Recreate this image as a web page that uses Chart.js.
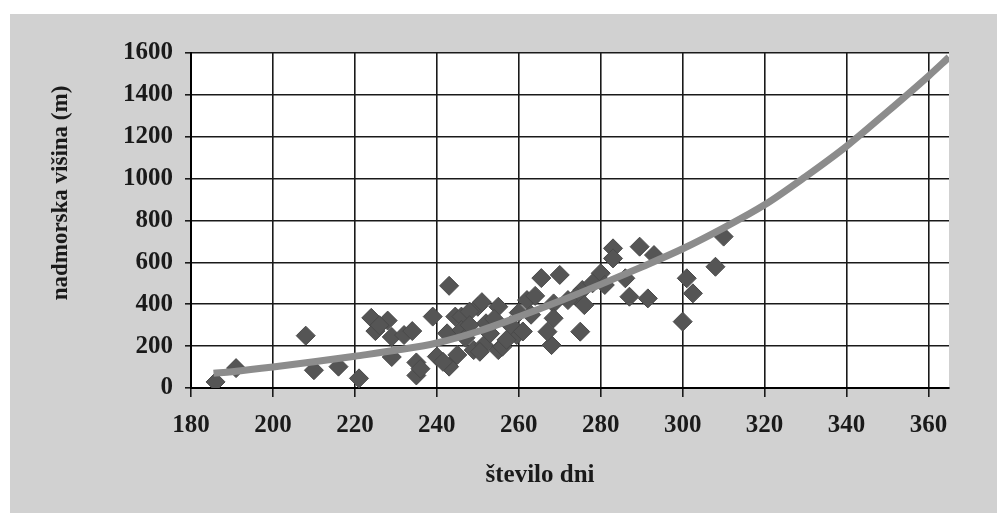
<!DOCTYPE html>
<html>
<head>
<meta charset="utf-8">
<title>nadmorska višina - število dni</title>
<script src="https://cdn.jsdelivr.net/npm/chart.js@4.4.1/dist/chart.umd.min.js"></script>
<style>
    html, body { margin: 0; padding: 0; background: #fff; }
    #wrap { width: 997px; height: 518px; }
</style>
</head>
<body>
<div id="wrap"><canvas id="chart" width="997" height="518"></canvas></div>
<script>
// meritve: število dni (x) in nadmorska višina (y)
var pointDays = [
    186, 191, 208, 210, 216, 221, 224, 228, 225, 226,
    229, 232, 234, 229, 235, 235, 236, 239, 243, 244.5,
    242.5, 240, 243, 241.5, 246, 250, 255, 249, 251.5, 255,
    252, 259.5, 262, 265.5, 268.5, 268, 246, 245, 251, 248,
    256, 250.5, 283, 283, 289.5, 293, 310, 308, 301, 302.5,
    300, 291.5, 287, 286, 280, 270, 275.5, 274, 276, 275,
    268.5, 267, 281, 258, 261, 263, 257, 247, 253, 260,
    278, 272, 264, 254, 248
];
var pointHeights = [
    29, 95, 250, 85, 102, 46, 335, 322, 272, 300,
    244, 253, 272, 148, 122, 60, 92, 341, 488, 341,
    261, 150, 102, 125, 341, 388, 388, 181, 205, 181,
    309, 253, 420, 525, 404, 205, 277, 158, 410, 365,
    197, 173, 667, 619, 675, 635, 723, 579, 524, 452,
    317, 428, 436, 524, 548, 540, 468, 436, 396, 269,
    333, 269, 492, 300, 270, 350, 230, 240, 260, 360,
    500, 420, 440, 330, 300
];

// trendna krivulja, odčitana s slike
var curveDays = [185.5, 190, 200, 210, 220, 230, 240, 250, 260, 270, 280, 290, 300, 310, 320, 330, 340, 350, 360, 365];
var curveHeights = [70, 78, 100, 125, 152, 180, 215, 270, 340, 415, 495, 578, 665, 765, 875, 1010, 1155, 1320, 1490, 1580];

// oznake osi
var xTicks = [180, 200, 220, 240, 260, 280, 300, 320, 340, 360];
var yTicks = [0, 200, 400, 600, 800, 1000, 1200, 1400, 1600];

var xTitle = 'število dni';
var yTitle = 'nadmorska višina (m)';

(function() {
    'use strict';

    var fontFamily = '"Liberation Serif", "DejaVu Serif", serif';
    var inkColor = '#1a1a1a';

    // sivo ozadje in belo risalno območje
    var paperPlugin = {
        id: 'paper',
        beforeDraw: function(chart) {
            var ctx = chart.ctx;
            var a = chart.chartArea;
            ctx.save();
            ctx.fillStyle = '#ffffff';
            ctx.fillRect(0, 0, chart.width, chart.height);
            ctx.fillStyle = '#d1d1d1';
            ctx.fillRect(10, 14, chart.width - 10, 499);
            ctx.fillStyle = '#ffffff';
            ctx.fillRect(a.left, a.top, a.right - a.left, a.bottom - a.top);
            ctx.restore();
        }
    };

    // naslova osi na točnih mestih
    var axisTitlePlugin = {
        id: 'axisTitles',
        afterDraw: function(chart) {
            var ctx = chart.ctx;
            ctx.save();
            ctx.fillStyle = inkColor;
            ctx.textAlign = 'center';
            ctx.textBaseline = 'middle';
            ctx.font = 'bold 25px ' + fontFamily;
            ctx.fillText(xTitle, 540, 476);
            ctx.translate(61, 193);
            ctx.rotate(-Math.PI / 2);
            ctx.font = 'bold 23px ' + fontFamily;
            ctx.fillText(yTitle, 0, 0);
            ctx.restore();
        }
    };

    function toPoints(xs, ys) {
        return xs.map(function(x, i) {
            return { x: x, y: ys[i] };
        });
    }

    function plainNumber(value) {
        return String(value);
    }

    var ctx = document.getElementById('chart').getContext('2d');

    new Chart(ctx, {
        type: 'scatter',
        data: {
            datasets: [
                {
                    label: 'trend',
                    data: toPoints(curveDays, curveHeights),
                    showLine: true,
                    borderColor: '#8c8c8c',
                    borderWidth: 7,
                    pointRadius: 0,
                    tension: 0.4,
                    cubicInterpolationMode: 'monotone',
                    order: 0
                },
                {
                    label: 'meritve',
                    data: toPoints(pointDays, pointHeights),
                    pointStyle: 'rectRot',
                    pointRadius: 9.5,
                    backgroundColor: '#555555',
                    borderColor: '#4a4a4a',
                    borderWidth: 1,
                    order: 1
                }
            ]
        },
        options: {
            responsive: false,
            animation: false,
            layout: {
                padding: { left: 0, top: 53, right: 48, bottom: 0 }
            },
            plugins: {
                legend: { display: false },
                tooltip: { enabled: false }
            },
            scales: {
                x: {
                    type: 'linear',
                    min: 180,
                    max: 365,
                    afterBuildTicks: function(scale) {
                        scale.ticks = xTicks.map(function(v) { return { value: v }; });
                    },
                    afterFit: function(scale) {
                        scale.height = 130;
                    },
                    grid: {
                        color: inkColor,
                        lineWidth: 1.6,
                        tickLength: 9
                    },
                    border: { color: '#000', width: 2 },
                    ticks: {
                        color: inkColor,
                        padding: 14,
                        maxRotation: 0,
                        autoSkip: false,
                        callback: plainNumber,
                        font: { family: fontFamily, size: 25, weight: 'bold' }
                    }
                },
                y: {
                    type: 'linear',
                    min: 0,
                    max: 1600,
                    afterBuildTicks: function(scale) {
                        scale.ticks = yTicks.map(function(v) { return { value: v }; });
                    },
                    afterFit: function(scale) {
                        scale.width = 191;
                    },
                    grid: {
                        color: inkColor,
                        lineWidth: 1.6,
                        tickLength: 6
                    },
                    border: { color: '#000', width: 2 },
                    ticks: {
                        color: inkColor,
                        padding: 12,
                        autoSkip: false,
                        callback: plainNumber,
                        font: { family: fontFamily, size: 25, weight: 'bold' }
                    }
                }
            }
        },
        plugins: [paperPlugin, axisTitlePlugin]
    });
})();
</script>
</body>
</html>
